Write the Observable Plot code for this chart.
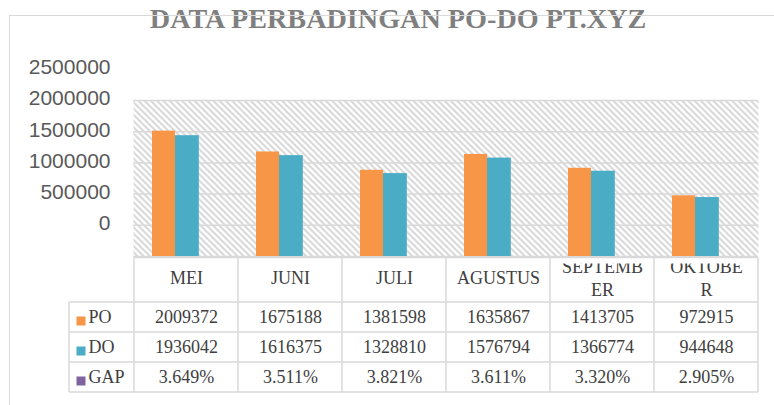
<!DOCTYPE html>
<html>
<head>
<meta charset="utf-8">
<script src="https://cdn.jsdelivr.net/npm/d3@7"></script>
<script src="https://cdn.jsdelivr.net/npm/@observablehq/plot@0.6"></script>
<style>
  html, body { margin: 0; padding: 0; background: #ffffff; }
  #wrap { position: relative; width: 774px; height: 405px; overflow: hidden; background: #ffffff; }
  #wrap svg { position: absolute; left: 0; top: 0; }
  #border { position: absolute; left: 8.5px; top: 14.5px; width: 900px; height: 500px;
            border-left: 1.5px solid #d9d9d9; border-top: 1.5px solid #d9d9d9; pointer-events: none; }
</style>
</head>
<body>
<div id="wrap"></div>
<script>
// ---- data ----
const chartTitle = "DATA PERBADINGAN PO-DO PT.XYZ";
const months = ["MEI", "JUNI", "JULI", "AGUSTUS", "SEPTEMBER", "OKTOBER"];
const headerLabels = ["MEI", "JUNI", "JULI", "AGUSTUS", "SEPTEMB\nER", "OKTOBE\nR"];
const seriesNames = ["PO", "DO", "GAP"];
const seriesColors = ["#f79646", "#4bacc6", "#8064a2"];
const poValues = [2009372, 1675188, 1381598, 1635867, 1413705, 972915];
const doValues = [1936042, 1616375, 1328810, 1576794, 1366774, 944648];
const gapValues = [3.649, 3.511, 3.821, 3.611, 3.320, 2.905];
const yTicks = [0, 500000, 1000000, 1500000, 2000000, 2500000];

const rows = months.map((m, i) => ({month: m, po: poValues[i], do: doValues[i], gap: gapValues[i], header: headerLabels[i]}));
const rowCells = [
  {key: "po", fmt: d => String(d.po)},
  {key: "do", fmt: d => String(d.do)},
  {key: "gap", fmt: d => d.gap.toFixed(3) + "%"}
];
const rowDy = [61, 91, 121];

const serif = "'Liberation Serif', 'Times New Roman', serif";
const sans = "'Liberation Sans', Arial, sans-serif";
const textGray = "#404040";

const chart = Plot.plot({
  width: 774,
  height: 405,
  marginLeft: 133,
  marginRight: 16,
  marginTop: 100,
  marginBottom: 149,
  x: {domain: months, padding: 0, axis: null},
  y: {domain: [0, 2500000], axis: null},
  style: {background: "transparent", fontFamily: sans},
  marks: [
    Plot.frame({fill: "url(#hatch)", stroke: "none"}),
    Plot.gridY(yTicks, {stroke: "#d9d9d9", strokeOpacity: 1, strokeWidth: 1.5}),
    Plot.barY(rows, {x: "month", y: "po", fill: seriesColors[0], insetLeft: 18, insetRight: 63}),
    Plot.barY(rows, {x: "month", y: "do", fill: seriesColors[1], insetLeft: 41, insetRight: 39.2}),
    Plot.axisY(yTicks, {anchor: "left", label: null, tickSize: 0, tickPadding: 23, dy: -33,
      tickFormat: d => String(d), fontSize: 21, fontFamily: sans, fill: "#595959"}),
    Plot.text([chartTitle], {text: d => d, frameAnchor: "top", lineAnchor: "middle", dx: -48, dy: -81.8,
      fontSize: 28.2, fontWeight: "bold", fontFamily: serif, fill: "#7f7f7f"}),
    // table header (month names)
    Plot.text(rows, {x: "month", text: "header", frameAnchor: "bottom", lineAnchor: "middle", dy: 20.6, lineHeight: 1.26,
      fontSize: 18, fontFamily: serif, fill: textGray}),
    // table values
    ...rowCells.map((c, i) => Plot.text(rows, {x: "month", text: c.fmt, frameAnchor: "bottom", lineAnchor: "middle",
      dy: rowDy[i], fontSize: 18, fontFamily: serif, fill: textGray})),
    // legend labels in table
    ...seriesNames.map((s, i) => Plot.text([s], {text: d => d, frameAnchor: "bottom-left", lineAnchor: "middle",
      dx: -45, dy: rowDy[i], textAnchor: "start", fontSize: 18, fontFamily: serif, fill: textGray})),
    ...seriesNames.map((s, i) => Plot.dot([s], {frameAnchor: "bottom-left", dx: -52.5, dy: rowDy[i] + 3.5,
      symbol: "square", r: 5.08, fill: seriesColors[i], stroke: "none"}))
  ]
});

// pattern for hatched plot area
const svgNS = "http://www.w3.org/2000/svg";
const defs = document.createElementNS(svgNS, "defs");
defs.innerHTML =
  '<pattern id="hatch" patternUnits="userSpaceOnUse" width="6.25" height="6.25">' +
  '<rect width="6.25" height="6.25" fill="#ffffff"/>' +
  '<path d="M-1,-1 L7.25,7.25 M5.25,-1 L7.25,1 M-1,5.25 L1,7.25" stroke="#d6d6d6" stroke-width="2"/>' +
  '</pattern>' +
  '<clipPath id="headerClip"><rect x="0" y="263.5" width="774" height="144"/></clipPath>';
chart.insertBefore(defs, chart.firstChild);

// clip the header text to its table cells (wrapper group keeps page coordinates)
for (const grp of chart.querySelectorAll('g[aria-label="text"]')) {
  if (grp.textContent.includes("SEPTEMB")) {
    const holder = document.createElementNS(svgNS, "g");
    holder.setAttribute("clip-path", "url(#headerClip)");
    grp.parentNode.insertBefore(holder, grp);
    holder.appendChild(grp);
  }
}

// table borders, positioned from Plot's x and y scales
const xs = chart.scale("x");
const ysc = chart.scale("y");
const bw = xs.bandwidth;
const edges = months.map(m => xs.apply(m)).concat([xs.apply(months[months.length - 1]) + bw]);
const tableTop = ysc.apply(0) + 1.5;
const rowLines = [tableTop + 44.5, tableTop + 74.5, tableTop + 104.5, tableTop + 134.5];
const labelLeft = edges[0] - 65;
const borders = d3.select(chart).append("g").attr("stroke", "#d9d9d9").attr("stroke-width", 1.5).attr("fill", "none");
borders.append("line").attr("x1", edges[0]).attr("x2", edges[edges.length - 1]).attr("y1", tableTop).attr("y2", tableTop);
for (const y of rowLines) {
  borders.append("line").attr("x1", labelLeft).attr("x2", edges[edges.length - 1]).attr("y1", y).attr("y2", y);
}
for (const x of edges) {
  borders.append("line").attr("x1", x).attr("x2", x).attr("y1", tableTop).attr("y2", rowLines[rowLines.length - 1]);
}
borders.append("line").attr("x1", labelLeft).attr("x2", labelLeft).attr("y1", rowLines[0]).attr("y2", rowLines[rowLines.length - 1]);

const wrap = document.getElementById("wrap");
wrap.appendChild(chart);
const border = document.createElement("div");
border.id = "border";
wrap.appendChild(border);
</script>
</body>
</html>
